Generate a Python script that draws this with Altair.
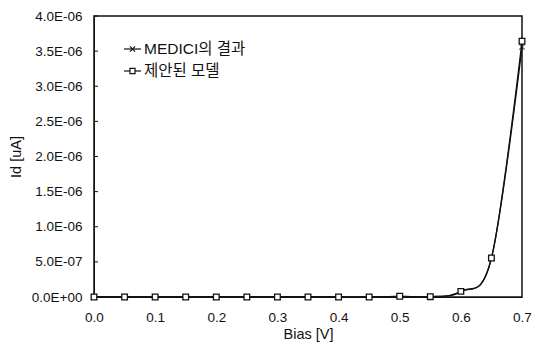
import altair as alt
import pandas as pd

# ---- data ----
bias = [0.0, 0.05, 0.1, 0.15, 0.2, 0.25, 0.3, 0.35, 0.4, 0.45, 0.5, 0.55, 0.6, 0.65, 0.7]
medici = [0, 0, 0, 0, 0, 0, 0, 0, 0, 0, 1.0e-8, 5.0e-9, 8.0e-8, 5.5e-7, 3.56e-6]
model = [0, 0, 0, 0, 0, 0, 0, 0, 0, 0, 1.0e-8, 5.0e-9, 8.0e-8, 5.55e-7, 3.64e-6]

x_ticks = [0.0, 0.1, 0.2, 0.3, 0.4, 0.5, 0.6, 0.7]
y_ticks = [0, 5e-7, 1e-6, 1.5e-6, 2e-6, 2.5e-6, 3e-6, 3.5e-6, 4e-6]
y_labels = ["0.0E+00", "5.0E-07", "1.0E-06", "1.5E-06", "2.0E-06",
            "2.5E-06", "3.0E-06", "3.5E-06", "4.0E-06"]
legend_labels = ["MEDICI의 결과", "제안된 모델"]

FONT = "Liberation Sans, Arial, 'Noto Sans CJK KR', sans-serif"
KFONT = "Liberation Sans, 'Noto Sans CJK KR', sans-serif"
INK = "#111111"

df = pd.DataFrame({"bias": bias, "medici": medici, "model": model})
ticks_df = pd.DataFrame({"t": y_ticks})

label_expr = "[" + ",".join("'%s'" % s for s in y_labels) + "][round(datum.value / 5e-7)]"

xs = alt.Scale(domain=[0, 0.7], nice=False)
ys = alt.Scale(domain=[0, 4e-6], nice=False)

x_axis = alt.Axis(
    values=x_ticks, format=".1f", tickSize=0, labelPadding=13, grid=False,
    labelOverlap=False, labelFlush=False,
    domainColor=INK, labelColor=INK, labelFont=FONT, labelFontSize=13.5,
    title="Bias [V]", titleFont=FONT, titleFontSize=14.5, titleFontWeight="normal",
    titleColor=INK, titlePadding=4)

y_axis = alt.Axis(
    values=y_ticks, labelExpr=label_expr, tickSize=0, labelPadding=12, grid=False,
    labelOverlap=False, labelFlush=False,
    domainColor=INK, labelColor=INK, labelFont=FONT, labelFontSize=13.5,
    title="Id [uA]", titleFont=FONT, titleFontSize=14.5, titleFontWeight="normal",
    titleColor=INK, titlePadding=8)


def X():
    return alt.X("bias:Q", scale=xs, axis=x_axis)


def Y(field):
    return alt.Y(field, scale=ys, axis=y_axis, title="Id [uA]")


base = alt.Chart(df)

line_model = base.mark_line(color=INK, strokeWidth=1.3, interpolate="cardinal").encode(
    x=X(), y=Y("model:Q"))
line_medici = base.mark_line(color=INK, strokeWidth=1.3, interpolate="cardinal").encode(
    x=X(), y=Y("medici:Q"))
pts_medici = base.mark_point(
    shape="M-1,-1L1,1M-1,1L1,-1", size=30, color=INK, strokeWidth=1.2, filled=False
).encode(x=X(), y=Y("medici:Q"))
pts_model = base.mark_point(
    shape="square", size=32, color=INK, fill="white", strokeWidth=1.3, filled=False, opacity=1
).encode(x=X(), y=Y("model:Q"))

inner_ticks = alt.Chart(ticks_df).mark_rule(color=INK, strokeWidth=1).encode(
    y=Y("t:Q"), x=alt.value(0), x2=alt.value(4))

# manual legend (top-left inside the plot)
one = alt.Data(values=[{}])
leg = []
for i, (lab, shape) in enumerate(zip(legend_labels, ["M-1,-1L1,1M-1,1L1,-1", "square"])):
    yy = 33 + i * 22
    leg.append(alt.Chart(one).mark_rule(color=INK, strokeWidth=1.2).encode(
        x=alt.value(30), x2=alt.value(47), y=alt.value(yy)))
    leg.append(alt.Chart(one).mark_point(shape=shape, size=26, color=INK, fill="white",
                                         strokeWidth=1.2, opacity=1).encode(
        x=alt.value(38.5), y=alt.value(yy)))
    leg.append(alt.Chart(one).mark_text(text=lab, align="left", baseline="middle",
                                        font=KFONT, fontSize=15.5, color=INK).encode(
        x=alt.value(50), y=alt.value(yy)))

chart = alt.layer(line_model, inner_ticks, line_medici, pts_medici, pts_model, *leg).properties(
    width=428, height=281,
    autosize=alt.AutoSizeParams(type="none"),
    padding={"left": 86, "top": 8, "right": 10, "bottom": 46},
    background="white",
).configure_view(stroke=INK, strokeWidth=1.5)

chart.save("out.html", embed_options={"renderer": "svg", "actions": False})
